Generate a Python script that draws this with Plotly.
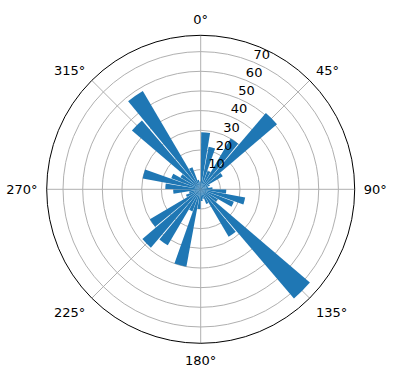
import plotly.graph_objects as go

# bin centres (degrees, clockwise from north) and bar heights
theta_deg = [5, 15, 25, 35, 45, 55, 65, 75, 85, 95, 105, 115,
             125, 135, 145, 155, 165, 175, 185, 195, 205, 215, 225, 235,
             245, 255, 265, 275, 285, 295, 305, 315, 325, 335, 345, 355]
values = [29, 22, 10, 30, 51, 13, 5, 4, 6, 13, 23, 18,
          10, 73, 28, 8, 5, 6, 10, 40, 12, 33, 39, 30,
          8, 6, 14, 18, 30, 16, 12, 46, 58, 12, 5, 4]
bar_width_deg = 9
r_ticks = [10, 20, 30, 40, 50, 60, 70]
r_label_angle = 22.5
theta_ticks = [0, 45, 90, 135, 180, 225, 270, 315]
theta_labels = ["0°", "45°", "90°", "135°", "180°", "225°", "270°", "315°"]

font = "DejaVu Sans"
grid = "#b0b0b0"

fig = go.Figure()
fig.add_trace(go.Barpolar(
    r=values,
    theta=theta_deg,
    width=[bar_width_deg] * len(values),
    marker=dict(color="#1f77b4", line=dict(width=0)),
    opacity=1,
    hoverinfo="skip",
))
# radial tick labels (matplotlib style, along 22.5°)
fig.add_trace(go.Scatterpolar(
    r=r_ticks,
    theta=[r_label_angle] * len(r_ticks),
    mode="text",
    text=[str(v) for v in r_ticks],
    textposition="top right",
    textfont=dict(family=font, size=13, color="black"),
    marker=dict(size=0),
    cliponaxis=False,
    hoverinfo="skip",
))

fig.update_layout(
    width=396, height=380,
    margin=dict(l=0, r=0, t=0, b=0),
    paper_bgcolor="white",
    showlegend=False,
    font=dict(family=font, size=13, color="black"),
    polar=dict(
        domain=dict(x=[46.7 / 396, 354.7 / 396], y=[1 - 343.3 / 380, 1 - 35.3 / 380]),
        bgcolor="white",
        bargap=0,
        angularaxis=dict(
            direction="clockwise",
            rotation=90,
            tickmode="array",
            tickvals=theta_ticks,
            ticktext=theta_labels,
            showgrid=True,
            gridcolor=grid,
            gridwidth=0.8,
            showline=True,
            linecolor="black",
            linewidth=1,
            ticks="outside",
            ticklen=6,
            tickcolor="rgba(0,0,0,0)",
            tickfont=dict(family=font, size=13, color="black"),
        ),
        radialaxis=dict(
            range=[0, 78.3],
            tickmode="array",
            tickvals=r_ticks,
            showticklabels=False,
            angle=67.5,
            showline=False,
            showgrid=True,
            gridcolor=grid,
            gridwidth=0.8,
            ticks="",
        ),
    ),
)

fig.write_html("out.html")
